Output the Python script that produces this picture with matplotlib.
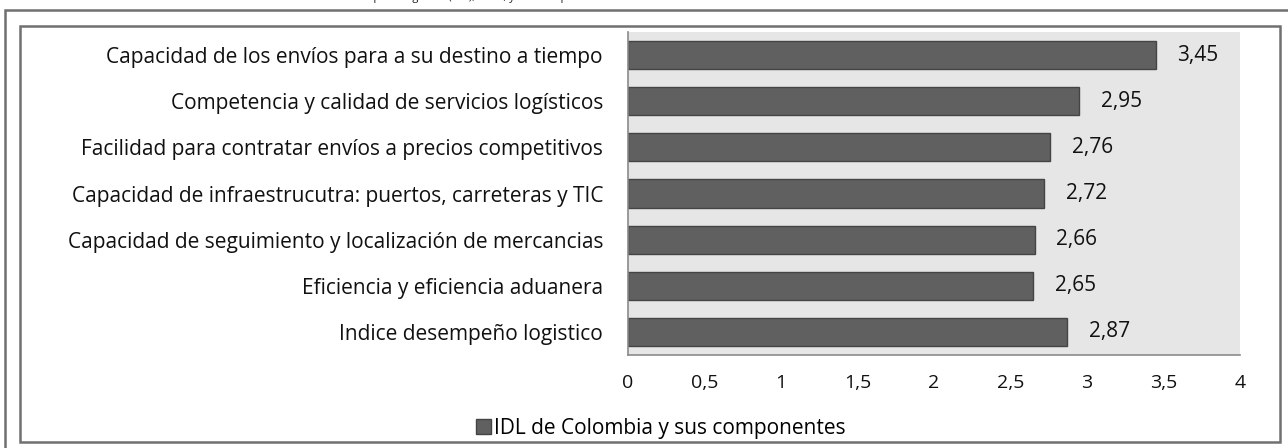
import matplotlib
matplotlib.use("Agg")
import matplotlib.pyplot as plt
from matplotlib.patches import Rectangle, Patch

categorias = [
    "Capacidad de los envíos para a su destino a tiempo",
    "Competencia y calidad de servicios logísticos",
    "Facilidad para contratar envíos a precios competitivos",
    "Capacidad de infraestrucutra: puertos, carreteras y TIC",
    "Capacidad de seguimiento y localización de mercancias",
    "Eficiencia y eficiencia aduanera",
    "Indice desempeño logistico",
]
valores = [3.45, 2.95, 2.76, 2.72, 2.66, 2.65, 2.87]
ticks = [0, 0.5, 1, 1.5, 2, 2.5, 3, 3.5, 4]
serie = "IDL de Colombia y sus componentes"

plt.rcParams["font.family"] = ["Open Sans", "DejaVu Sans"]

W, H = 1288, 448
fig = plt.figure(figsize=(W / 100, H / 100), dpi=100)

# frames (outer cut off, inner chart box)
fig.patches.append(Rectangle((5 / W, 1 - 700 / H), 1400 / W, 690 / H,
                             transform=fig.transFigure, fill=False,
                             edgecolor="#707070", linewidth=1.8))
fig.patches.append(Rectangle((20 / W, 1 - 442 / H), 1260 / W, 416 / H,
                             transform=fig.transFigure, fill=False,
                             edgecolor="#707070", linewidth=1.8))

# clipped caption line above the frame (only the descenders show)
fig.text(288 / W, 1.0, "Índice de desempeño logístico (IDL), 2014, y sus componentes",
         fontsize=8, va="baseline", ha="left", color="#222222")

ax = fig.add_axes([628 / W, 1 - 355 / H, 612 / W, 323 / H])
ax.set_facecolor("#e6e6e6")

y = list(range(len(categorias)))
ax.barh(y, valores, height=0.61, color="#606060", edgecolor="#444444", linewidth=1)
ax.set_ylim(len(categorias) - 0.5, -0.5)
ax.set_xlim(0, 4)

for yi, v in zip(y, valores):
    ax.text(v + 0.14, yi, f"{v:.2f}".replace(".", ","), va="center", ha="left",
            fontsize=15, color="#111111")

ax.set_yticks(y)
ax.set_yticklabels(categorias, fontsize=15, color="#111111")
ax.set_xticks(ticks)
ax.set_xticklabels([f"{t:g}".replace(".", ",") for t in ticks], fontsize=14,
                   color="#111111")
ax.tick_params(axis="y", length=0, pad=18)
ax.tick_params(axis="x", length=0, pad=14)

for s in ["top", "right"]:
    ax.spines[s].set_visible(False)
for s in ["left", "bottom"]:
    ax.spines[s].set_color("#8a8a8a")
    ax.spines[s].set_linewidth(1.2)

fig.legend(handles=[Patch(facecolor="#606060", edgecolor="#444444", label=serie)],
           loc="center", bbox_to_anchor=(661 / W, 1 - 428 / H), frameon=False,
           fontsize=15, handlelength=0.7, handleheight=0.7, handletextpad=0.15)

fig.savefig("out.png", dpi=100)
